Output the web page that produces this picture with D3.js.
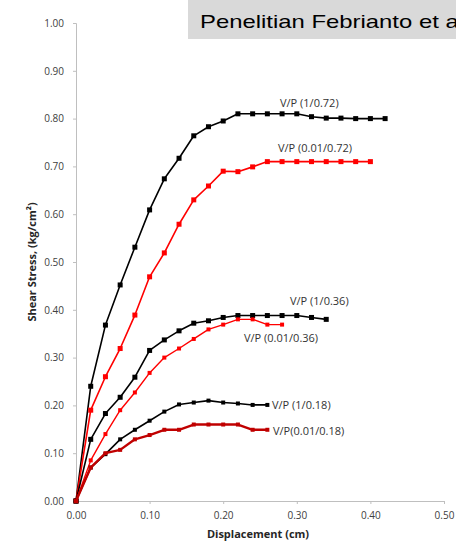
<!DOCTYPE html>
<html>
<head>
<meta charset="utf-8">
<script src="https://cdn.jsdelivr.net/npm/d3@7"></script>
<style>
  body { margin: 0; background: #fff; overflow: hidden; }
  svg { display: block; }
  .tick text { font-family: "Open Sans", sans-serif; font-size: 10px; fill: #404040; }
  .axis-title { font-family: "Open Sans", sans-serif; font-size: 11px; font-weight: bold; fill: #262626; }
  .series-label { font-family: "Open Sans", sans-serif; font-size: 11px; fill: #333; }
</style>
</head>
<body>
<div id="chart"></div>
<script>
// displacement steps (cm), every series is sampled at 0.02
const displacement = [0, 0.02, 0.04, 0.06, 0.08, 0.10, 0.12, 0.14, 0.16, 0.18, 0.20,
    0.22, 0.24, 0.26, 0.28, 0.30, 0.32, 0.34, 0.36, 0.38, 0.40, 0.42];

const vp1_072 = [0, 0.24, 0.368, 0.452, 0.531, 0.609, 0.674, 0.717, 0.764, 0.783, 0.795, 0.81, 0.81, 0.81, 0.81, 0.81, 0.804, 0.801, 0.801, 0.80, 0.80, 0.80];
const vp001_072 = [0, 0.19, 0.26, 0.319, 0.389, 0.469, 0.519, 0.579, 0.63, 0.659, 0.69, 0.689, 0.699, 0.71, 0.71, 0.71, 0.71, 0.71, 0.71, 0.71, 0.71];
const vp1_036 = [0, 0.129, 0.183, 0.217, 0.259, 0.315, 0.337, 0.356, 0.372, 0.377, 0.384, 0.388, 0.388, 0.388, 0.388, 0.388, 0.384, 0.38];
const vp001_036 = [0, 0.085, 0.14, 0.19, 0.227, 0.268, 0.30, 0.319, 0.339, 0.359, 0.369, 0.38, 0.38, 0.369, 0.369];
const vp1_018 = [0, 0.07, 0.098, 0.129, 0.149, 0.168, 0.187, 0.202, 0.206, 0.21, 0.206, 0.204, 0.201, 0.201];
const vp001_018 = [0, 0.07, 0.10, 0.107, 0.129, 0.138, 0.149, 0.149, 0.16, 0.16, 0.16, 0.16, 0.149, 0.149];

const xTicks = [0, 0.1, 0.2, 0.3, 0.4, 0.5];
const yTicks = [0, 0.1, 0.2, 0.3, 0.4, 0.5, 0.6, 0.7, 0.8, 0.9, 1.0];

const series = [
    { name: "V/P (1/0.72)", values: vp1_072, color: "#000", width: 1.6, marker: 5, lx: 280, ly: 103 },
    { name: "V/P (0.01/0.72)", values: vp001_072, color: "#ff0000", width: 1.6, marker: 5, lx: 278, ly: 148 },
    { name: "V/P (1/0.36)", values: vp1_036, color: "#000", width: 1.6, marker: 5, lx: 290, ly: 301 },
    { name: "V/P (0.01/0.36)", values: vp001_036, color: "#ff0000", width: 1.4, marker: 4, lx: 244, ly: 338 },
    { name: "V/P (1/0.18)", values: vp1_018, color: "#000", width: 1.6, marker: 4, lx: 272, ly: 405 },
    { name: "V/P(0.01/0.18)", values: vp001_018, color: "#c00000", width: 2.4, marker: 4, lx: 273, ly: 431 }
];

const W = 456, H = 543;
const margin = { top: 23, right: 12, bottom: 42, left: 76 };

const svg = d3.select("#chart").append("svg")
    .attr("width", W)
    .attr("height", H);

const x = d3.scaleLinear().domain([0, 0.5]).range([margin.left, 444]);
const y = d3.scaleLinear().domain([0, 1]).range([501, margin.top]);

// y axis
const yAxis = svg.append("g")
    .attr("transform", `translate(${x(0)},0)`)
    .call(d3.axisLeft(y).tickValues(yTicks).tickFormat(d3.format(".2f")).tickSize(3).tickPadding(9));
yAxis.select(".domain").attr("stroke", "#bfbfbf");
yAxis.selectAll(".tick line").attr("stroke", "#bfbfbf");

// x axis
const xAxis = svg.append("g")
    .attr("transform", `translate(0,${y(0)})`)
    .call(d3.axisBottom(x).tickValues(xTicks).tickFormat(d3.format(".2f")).tickSize(3).tickPadding(8));
xAxis.select(".domain").attr("stroke", "#bfbfbf");
xAxis.selectAll(".tick line").attr("stroke", "#bfbfbf");

svg.append("text")
    .attr("class", "axis-title")
    .attr("x", 258)
    .attr("y", 538)
    .attr("text-anchor", "middle")
    .text("Displacement (cm)");

svg.append("text")
    .attr("class", "axis-title")
    .attr("transform", `translate(36,${(y(0) + y(1)) / 2}) rotate(-90)`)
    .attr("text-anchor", "middle")
    .text("Shear Stress, (kg/cm²)");

const line = d3.line()
    .x((d, i) => x(displacement[i]))
    .y(d => y(d));

series.forEach(s => {
    const g = svg.append("g");
    g.append("path")
        .datum(s.values)
        .attr("fill", "none")
        .attr("stroke", s.color)
        .attr("stroke-width", s.width)
        .attr("stroke-linejoin", "round")
        .attr("d", line);

    g.selectAll("rect")
        .data(s.values)
        .join("rect")
        .attr("x", (d, i) => x(displacement[i]) - s.marker / 2)
        .attr("y", d => y(d) - s.marker / 2)
        .attr("width", s.marker)
        .attr("height", s.marker)
        .attr("fill", s.color);

    svg.append("text")
        .attr("class", "series-label")
        .attr("x", s.lx)
        .attr("y", s.ly)
        .attr("dy", "0.35em")
        .text(s.name);
});

// source note box (top right, runs off the page edge)
svg.append("rect")
    .attr("x", 188)
    .attr("y", 0)
    .attr("width", W - 188)
    .attr("height", 39)
    .attr("fill", "#d9d9d9");

svg.append("text")
    .attr("x", 200)
    .attr("y", 28)
    .attr("textLength", 264)
    .attr("lengthAdjust", "spacingAndGlyphs")
    .style("font-family", "Liberation Sans, Arial, sans-serif")
    .style("font-size", "19px")
    .attr("fill", "#000")
    .text("Penelitian Febrianto et al");
</script>
</body>
</html>
